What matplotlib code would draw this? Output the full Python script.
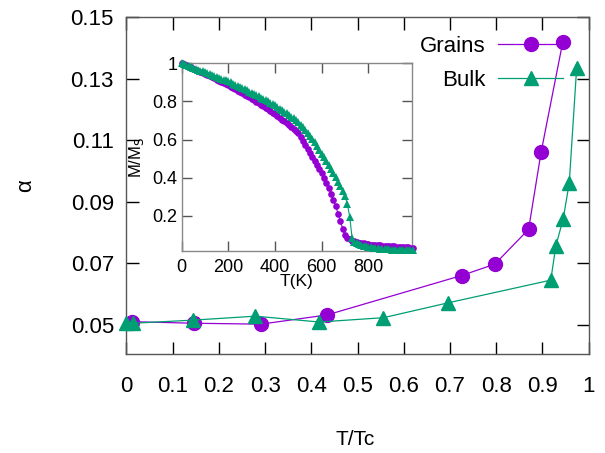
import numpy as np
import matplotlib
matplotlib.use("Agg")
import matplotlib.pyplot as plt

# ---------------------------------------------------------------------------
# Data
# ---------------------------------------------------------------------------

# main panel: alpha vs T/Tc
grains_t = [0.013, 0.146, 0.291, 0.434, 0.725, 0.797, 0.870, 0.897, 0.944]
grains_alpha = [0.0510, 0.0505, 0.0502, 0.0532, 0.0660, 0.0697, 0.0810, 0.1060, 0.1419]

bulk_t = [0.0, 0.014, 0.143, 0.279, 0.417, 0.556, 0.695, 0.918, 0.929, 0.945, 0.958, 0.974]
bulk_alpha = [0.0505, 0.0505, 0.0515, 0.0528, 0.0509, 0.0523, 0.0571, 0.0645, 0.0756,
              0.0845, 0.0961, 0.1334]

# inset: M/Ms vs T(K), one value every 10 K from 0 to 990
inset_T = list(range(0, 1000, 10))
grains_m = [
    1.000, 0.994, 0.989, 0.983, 0.978, 0.972, 0.967, 0.961, 0.956, 0.950, 0.945,
    0.939, 0.933, 0.927, 0.921, 0.915, 0.909, 0.903, 0.897, 0.891, 0.885,
    0.878, 0.871, 0.864, 0.857, 0.850, 0.843, 0.836, 0.829, 0.822, 0.814,
    0.806, 0.798, 0.790, 0.782, 0.774, 0.766, 0.758, 0.750, 0.741, 0.732,
    0.723, 0.714, 0.705, 0.696, 0.687, 0.677, 0.667, 0.657, 0.646, 0.635,
    0.615, 0.594, 0.573, 0.552, 0.531, 0.510, 0.489, 0.468, 0.446, 0.424,
    0.400, 0.374, 0.346, 0.316, 0.284, 0.250, 0.212, 0.172, 0.132, 0.102,
    0.086, 0.077, 0.071, 0.067, 0.063, 0.060, 0.058, 0.056, 0.054, 0.052,
    0.050, 0.049, 0.048, 0.047, 0.046, 0.045, 0.044, 0.043, 0.042, 0.041,
    0.040, 0.039, 0.039, 0.038, 0.037, 0.036, 0.035, 0.034, 0.033,
]
bulk_m = [
    1.000, 0.995, 0.991, 0.986, 0.981, 0.977, 0.972, 0.967, 0.962, 0.958, 0.953,
    0.948, 0.944, 0.939, 0.934, 0.930, 0.925, 0.920, 0.915, 0.911, 0.906,
    0.900, 0.894, 0.888, 0.882, 0.876, 0.870, 0.864, 0.858, 0.851, 0.845,
    0.839, 0.832, 0.826, 0.819, 0.813, 0.806, 0.800, 0.793, 0.786, 0.779,
    0.771, 0.763, 0.755, 0.747, 0.739, 0.730, 0.721, 0.711, 0.701, 0.690,
    0.678, 0.665, 0.651, 0.636, 0.620, 0.603, 0.585, 0.566, 0.547, 0.527,
    0.507, 0.487, 0.466, 0.445, 0.424, 0.402, 0.379, 0.355, 0.330, 0.303,
    0.262, 0.195, 0.085, 0.066, 0.058, 0.052, 0.047, 0.043, 0.040, 0.037,
    0.035, 0.033, 0.031, 0.030, 0.029, 0.028, 0.027, 0.026, 0.025, 0.024,
    0.024, 0.023, 0.023, 0.022, 0.022, 0.021, 0.021, 0.020, 0.020,
]

x_ticks = [0, 0.1, 0.2, 0.3, 0.4, 0.5, 0.6, 0.7, 0.8, 0.9, 1.0]
x_ticklabels = ["0", "0.1", "0.2", "0.3", "0.4", "0.5", "0.6", "0.7", "0.8", "0.9", "1"]
y_ticks = [0.05, 0.07, 0.09, 0.11, 0.13, 0.15]
y_ticklabels = ["0.05", "0.07", "0.09", "0.11", "0.13", "0.15"]
inset_xticks = [0, 200, 400, 600, 800]
inset_yticks = [0.2, 0.4, 0.6, 0.8, 1.0]
inset_yticklabels = ["0.2", "0.4", "0.6", "0.8", "1"]

PURPLE = "#9400d3"
GREEN = "#009e73"
SPINE = "#555555"

plt.rcParams["font.family"] = ["Liberation Sans", "DejaVu Sans"]

fig = plt.figure(figsize=(6.05, 4.53), dpi=100)

# ---------------------------------------------------------------------------
# Main axes
# ---------------------------------------------------------------------------
ax = fig.add_axes([0.209, 0.2185, 0.764, 0.744])
ax.plot(grains_t, grains_alpha, color=PURPLE, lw=0.9, marker="o", ms=10,
        label="Grains", clip_on=False, zorder=3)
ax.plot(bulk_t, bulk_alpha, color=GREEN, lw=0.9, marker="^", ms=10,
        label="Bulk", clip_on=False, zorder=3)
ax.set_xlim(0, 1)
ax.set_ylim(0.0405, 0.15)
ax.set_xticks(x_ticks)
ax.set_xticklabels(x_ticklabels)
ax.set_yticks(y_ticks)
ax.set_yticklabels(y_ticklabels)
ax.tick_params(direction="in", top=True, right=True, length=9, width=1,
               color="black", labelsize=16)
ax.tick_params(axis="x", pad=16)
ax.tick_params(axis="y", pad=9)
for s in ax.spines.values():
    s.set_color(SPINE)
    s.set_linewidth(1.0)

ax.set_xlabel("T/Tc", fontsize=15)
ax.xaxis.set_label_coords(0.494, -0.225)
ax.set_ylabel("α", fontsize=16)
ax.yaxis.set_label_coords(-0.196, 0.5)

ax.legend(loc="upper right", bbox_to_anchor=(0.944, 0.945), frameon=False,
          markerfirst=False, fontsize=16, handlelength=2.9, handletextpad=0.6,
          labelspacing=0.6, borderpad=0, borderaxespad=0, numpoints=1)

# ---------------------------------------------------------------------------
# Inset
# ---------------------------------------------------------------------------
ins = fig.add_axes([0.3003, 0.4466, 0.3812, 0.4137])
ins.plot(inset_T, grains_m, color=PURPLE, lw=0.8, marker="o", ms=4.8, mew=0,
         clip_on=False, zorder=3)
ins.plot(inset_T, bulk_m, color=GREEN, lw=0.8, marker="^", ms=5.5, mew=0,
         clip_on=False, zorder=4)
ins.set_xlim(0, 988)
ins.set_ylim(0.018, 1.0)
ins.set_xticks(inset_xticks)
ins.set_yticks(inset_yticks)
ins.set_yticklabels(inset_yticklabels)
ins.tick_params(direction="in", top=True, right=True, length=7, width=1,
                color=SPINE, labelsize=13)
ins.tick_params(axis="x", pad=6)
ins.tick_params(axis="y", pad=3)
for s in ins.spines.values():
    s.set_color("#888888")
    s.set_linewidth(1.0)
ins.set_xlabel("T(K)", fontsize=12.5)
ins.xaxis.set_label_coords(0.5, -0.125)
ins.set_ylabel("M/M$_{\\mathrm{S}}$", fontsize=12)
ins.yaxis.set_label_coords(-0.155, 0.5)

fig.savefig("out.png", dpi=100)
